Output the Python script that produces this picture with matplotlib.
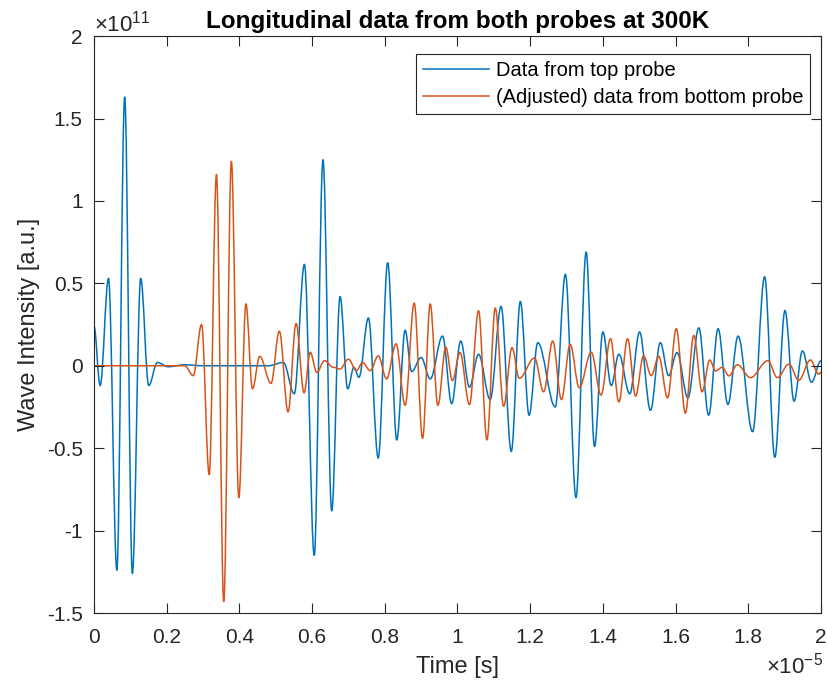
import matplotlib
matplotlib.use("Agg")
import matplotlib.pyplot as plt
from matplotlib.path import Path
from matplotlib.patches import PathPatch
from matplotlib.lines import Line2D

# Time in units of 1e-5 s, intensity in units of 1e11 (extrema)
top_t = [0, 0.017, 0.040, 0.063, 0.0845, 0.1056, 0.1286, 0.1506, 0.1745, 0.204, 0.25, 0.30, 0.40, 0.48,
         0.521, 0.551, 0.579, 0.606, 0.630, 0.654, 0.677, 0.698, 0.715, 0.729, 0.755, 0.782, 0.808, 0.833,
         0.856, 0.874, 0.900, 0.925, 0.959, 0.984, 1.009, 1.033, 1.058, 1.090, 1.120, 1.148, 1.173, 1.197,
         1.221, 1.269, 1.297, 1.326, 1.354, 1.377, 1.400, 1.423, 1.444, 1.474, 1.501, 1.531, 1.558, 1.581,
         1.604, 1.634, 1.664, 1.691, 1.717, 1.744, 1.772, 1.812, 1.845, 1.873, 1.901, 1.926, 1.949, 1.974, 2.0]
top_v = [0.24, -0.12, 0.53, -1.24, 1.63, -1.26, 0.53, -0.12, 0.02, -0.006, 0.006, 0.0, 0.0, 0.0,
         0.02, -0.17, 0.615, -1.15, 1.25, -0.88, 0.42, -0.14, -0.01, -0.07, 0.29, -0.56, 0.625, -0.45,
         0.215, -0.035, 0.05, -0.08, 0.18, -0.23, 0.15, -0.13, 0.07, -0.205, 0.36, -0.52, 0.39, -0.30,
         0.14, -0.25, 0.555, -0.80, 0.69, -0.49, 0.205, -0.12, 0.07, -0.17, 0.205, -0.27, 0.14, -0.06,
         0.08, -0.195, 0.23, -0.30, 0.225, -0.235, 0.18, -0.40, 0.54, -0.555, 0.335, -0.215, 0.09, -0.10, 0.03]

bot_t = [0, 0.25, 0.273, 0.296, 0.317, 0.337, 0.357, 0.378, 0.3985, 0.418, 0.436, 0.456, 0.487, 0.510,
         0.534, 0.556, 0.578, 0.595, 0.613, 0.634, 0.659, 0.677, 0.700, 0.722, 0.739, 0.760, 0.782, 0.805,
         0.831, 0.856, 0.881, 0.904, 0.925, 0.946, 0.968, 0.986, 1.007, 1.033, 1.058, 1.081, 1.104, 1.127,
         1.150, 1.170, 1.212, 1.237, 1.262, 1.286, 1.310, 1.335, 1.368, 1.395, 1.421, 1.444, 1.468, 1.490,
         1.512, 1.533, 1.554, 1.578, 1.602, 1.627, 1.650, 1.673, 1.694, 1.710, 1.728, 1.747, 1.770, 1.806,
         1.854, 1.880, 1.912, 1.939, 1.971, 1.994, 2.0]
bot_v = [0.0, 0.0, -0.06, 0.25, -0.66, 1.16, -1.43, 1.24, -0.80, 0.375, -0.14, 0.057, -0.107, 0.21,
         -0.28, 0.256, -0.164, 0.082, -0.041, 0.031, -0.01, -0.02, 0.04, -0.03, 0.02, -0.03, 0.06, -0.08,
         0.133, -0.24, 0.38, -0.44, 0.375, -0.24, 0.113, -0.09, 0.08, -0.236, 0.334, -0.45, 0.35, -0.246,
         0.11, -0.076, 0.047, -0.158, 0.15, -0.205, 0.13, -0.133, 0.082, -0.178, 0.164, -0.22, 0.164, -0.184,
         0.06, -0.06, 0.057, -0.195, 0.225, -0.287, 0.184, -0.158, 0.035, -0.031, -0.01, -0.061, 0.006, -0.072,
         0.031, -0.072, 0.01, -0.088, 0.035, -0.051, -0.04]

xticks = [0, 0.2, 0.4, 0.6, 0.8, 1, 1.2, 1.4, 1.6, 1.8, 2]
yticks = [-1.5, -1, -0.5, 0, 0.5, 1, 1.5, 2]

blue = '#0072BD'
orange = '#D95319'
dark = '#262626'

plt.rcParams['font.family'] = ['Liberation Sans', 'DejaVu Sans']


def smooth_path(t, v, k=0.36):
    """Cubic Bezier path through the extrema with flat tangents at each extremum."""
    verts = [(t[0], v[0])]
    codes = [Path.MOVETO]
    for i in range(len(t) - 1):
        dt = t[i + 1] - t[i]
        verts += [(t[i] + k * dt, v[i]), (t[i + 1] - k * dt, v[i + 1]), (t[i + 1], v[i + 1])]
        codes += [Path.CURVE4] * 3
    return Path(verts, codes)


fig = plt.figure(figsize=(8.28, 6.86), dpi=100)
ax = fig.add_axes([0.1135, 0.1064, 0.878, 0.841])

ax.add_patch(PathPatch(smooth_path(top_t, top_v), fill=False, edgecolor=blue, lw=1.1,
                       capstyle='round', joinstyle='round'))
ax.add_patch(PathPatch(smooth_path(bot_t, bot_v), fill=False, edgecolor=orange, lw=1.1,
                       capstyle='round', joinstyle='round'))

ax.set_xlim(0, 2)
ax.set_ylim(-1.5, 2)
ax.set_xticks(xticks)
ax.set_yticks(yticks)
ax.set_xticklabels([f'{v:g}' for v in xticks])
ax.set_yticklabels([f'{v:g}' for v in yticks])
ax.tick_params(direction='in', top=True, right=True, labelsize=15, colors=dark, length=7,
               width=0.8, pad=8)
ax.tick_params(axis='x', pad=11)
for s in ax.spines.values():
    s.set_color(dark)
    s.set_linewidth(0.8)

ax.set_xlabel('Time [s]', fontsize=17, color=dark, labelpad=6)
ax.set_ylabel('Wave Intensity [a.u.]', fontsize=17, color=dark, labelpad=5)
ax.set_title('Longitudinal data from both probes at 300K', fontsize=17.5, fontweight='bold', pad=6)

ax.text(0.0, 0.999, r'$\mathregular{\times10^{11}}$', transform=ax.transAxes, fontsize=16,
        color=dark, ha='left', va='bottom')
ax.text(1.003, -0.068, r'$\mathregular{\times10^{-5}}$', transform=ax.transAxes, fontsize=16,
        color=dark, ha='right', va='top')

handles = [Line2D([], [], color=blue, lw=1.1), Line2D([], [], color=orange, lw=1.1)]
labels = ['Data from top probe', '(Adjusted) data from bottom probe']
leg = ax.legend(handles, labels, loc='upper right', fontsize=14.5, fancybox=False, framealpha=1,
                edgecolor=dark, borderpad=0.35, handlelength=3.3, handletextpad=0.3,
                labelspacing=0.4, borderaxespad=0.0, bbox_to_anchor=(0.985, 0.969))
leg.get_frame().set_linewidth(0.8)

fig.savefig('out.png', dpi=100)
